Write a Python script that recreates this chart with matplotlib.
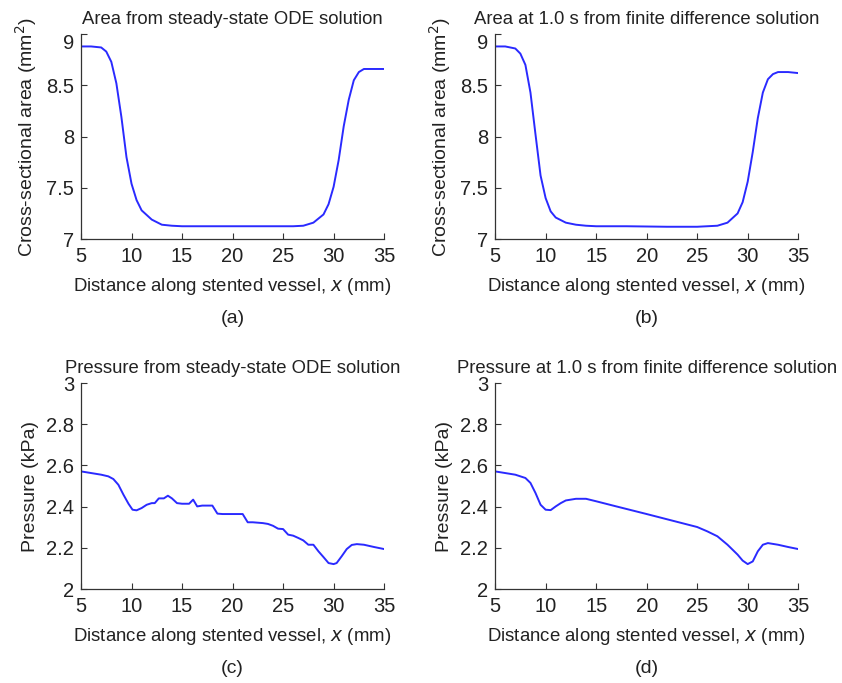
import matplotlib.pyplot as plt

plt.rcParams['font.family'] = ['Liberation Sans', 'DejaVu Sans']

# (a) area, steady-state ODE
xa = [5, 6, 7, 7.5, 8, 8.5, 9, 9.5, 10, 10.5, 11, 12, 13, 14, 15, 20, 26, 27, 28,
      29, 29.5, 30, 30.5, 31, 31.5, 32, 32.5, 33, 34, 35]
area_ode = [8.88, 8.88, 8.87, 8.83, 8.73, 8.52, 8.19, 7.80, 7.54, 7.38, 7.28, 7.19,
            7.14, 7.13, 7.125, 7.125, 7.125, 7.13, 7.16, 7.24, 7.34, 7.51, 7.77,
            8.10, 8.36, 8.55, 8.63, 8.66, 8.66, 8.66]

# (b) area at 1.0 s, finite difference
xb = [5, 6, 7, 7.5, 8, 8.5, 9, 9.5, 10, 10.5, 11, 12, 13, 14, 15, 18, 22, 25, 26, 27,
      28, 29, 29.5, 30, 30.5, 31, 31.5, 32, 32.5, 33, 34, 35]
area_fd = [8.88, 8.88, 8.86, 8.81, 8.70, 8.43, 8.02, 7.62, 7.40, 7.27, 7.21, 7.16,
           7.14, 7.13, 7.125, 7.125, 7.12, 7.12, 7.125, 7.13, 7.16, 7.25, 7.36,
           7.56, 7.85, 8.18, 8.43, 8.56, 8.61, 8.63, 8.63, 8.62]

# (c) pressure, steady-state ODE
xc = [5, 6, 7, 7.7, 8.2, 8.7, 9.2, 9.7, 10.1, 10.5, 11, 11.5, 12, 12.3, 12.7, 13.2,
      13.6, 14, 14.5, 15, 15.7, 16.1, 16.5, 17, 18, 18.5, 19, 21, 21.5, 22, 23, 23.5,
      24, 24.5, 25, 25.5, 26, 26.5, 27, 27.5, 28, 28.5, 29, 29.5, 30, 30.3, 30.8,
      31.3, 31.8, 32.3, 33, 34, 35]
pres_ode = [2.571, 2.563, 2.555, 2.547, 2.534, 2.506, 2.458, 2.414, 2.385, 2.382,
            2.393, 2.409, 2.417, 2.417, 2.440, 2.440, 2.453, 2.440, 2.417, 2.414,
            2.414, 2.434, 2.401, 2.405, 2.405, 2.366, 2.364, 2.364, 2.324, 2.324,
            2.320, 2.316, 2.307, 2.293, 2.291, 2.264, 2.259, 2.248, 2.236, 2.215,
            2.215, 2.183, 2.155, 2.126, 2.121, 2.126, 2.159, 2.194, 2.214, 2.218,
            2.215, 2.204, 2.194]

# (d) pressure at 1.0 s, finite difference
xd = [5, 6, 7, 8, 8.5, 9, 9.5, 10, 10.5, 11, 11.5, 12, 13, 14, 15, 17, 20, 25, 26,
      27, 28, 29, 29.5, 30, 30.5, 31, 31.5, 32, 33, 34, 35]
pres_fd = [2.571, 2.563, 2.555, 2.539, 2.515, 2.466, 2.409, 2.385, 2.383, 2.401,
           2.417, 2.430, 2.438, 2.438, 2.426, 2.401, 2.364, 2.301, 2.280, 2.256,
           2.215, 2.167, 2.138, 2.121, 2.134, 2.183, 2.215, 2.223, 2.215, 2.204,
           2.194]

titles = ['Area from steady-state ODE solution',
          'Area at 1.0 s from finite difference solution',
          'Pressure from steady-state ODE solution',
          'Pressure at 1.0 s from finite difference solution']
panel_tags = ['(a)', '(b)', '(c)', '(d)']
area_ticks = [7, 7.5, 8, 8.5, 9]
area_ticklabels = ['7', '7.5', '8', '8.5', '9']
pres_ticks = [2, 2.2, 2.4, 2.6, 2.8, 3]
pres_ticklabels = ['2', '2.2', '2.4', '2.6', '2.8', '3']
x_ticks = [5, 10, 15, 20, 25, 30, 35]

fig = plt.figure(figsize=(8.42, 6.83), dpi=100)
boxes = [[0.0962, 0.650, 0.360, 0.300],
         [0.588, 0.650, 0.360, 0.300],
         [0.0962, 0.1376, 0.360, 0.3016],
         [0.588, 0.1376, 0.360, 0.3016]]
series = [(xa, area_ode), (xb, area_fd), (xc, pres_ode), (xd, pres_fd)]
txt = '#222222'

for i, (box, (xs, ys)) in enumerate(zip(boxes, series)):
    ax = fig.add_axes(box)
    ax.plot(xs, ys, color='#2a2aff', lw=1.4)
    ax.set_xlim(5, 35)
    if i < 2:
        ax.set_ylim(7, 9)
        ax.set_yticks(area_ticks)
        ax.set_yticklabels(area_ticklabels)
        ax.set_ylabel('Cross-sectional area (mm$^2$)', fontsize=14, labelpad=5, color=txt)
        # the top label sits a little below its tick in the original
        ax.yaxis.get_major_ticks()[-1].label1.set_va('top')
    else:
        ax.set_ylim(2, 3)
        ax.set_yticks(pres_ticks)
        ax.set_yticklabels(pres_ticklabels)
        ax.set_ylabel('Pressure (kPa)', fontsize=14, labelpad=5, color=txt)
    ax.set_xticks(x_ticks)
    ax.set_xlabel('Distance along stented vessel, $x$ (mm)', fontsize=13.4,
                  labelpad=7, color=txt)
    ax.set_title(titles[i], fontsize=13.3, pad=7, color=txt)
    ax.spines['top'].set_visible(False)
    ax.spines['right'].set_visible(False)
    for s in ('left', 'bottom'):
        ax.spines[s].set_color('#333333')
        ax.spines[s].set_linewidth(0.9)
    ax.tick_params(direction='in', length=4, labelsize=14.5, width=0.8,
                   colors='#333333', labelcolor=txt)
    ax.tick_params(axis='x', pad=6)
    ax.tick_params(axis='y', pad=5)
    bb = ax.get_position()
    fig.text(bb.x0 + bb.width / 2, bb.y0 - 0.117, panel_tags[i],
             ha='center', va='center', fontsize=14, color=txt)

fig.savefig('out.png', dpi=100)
